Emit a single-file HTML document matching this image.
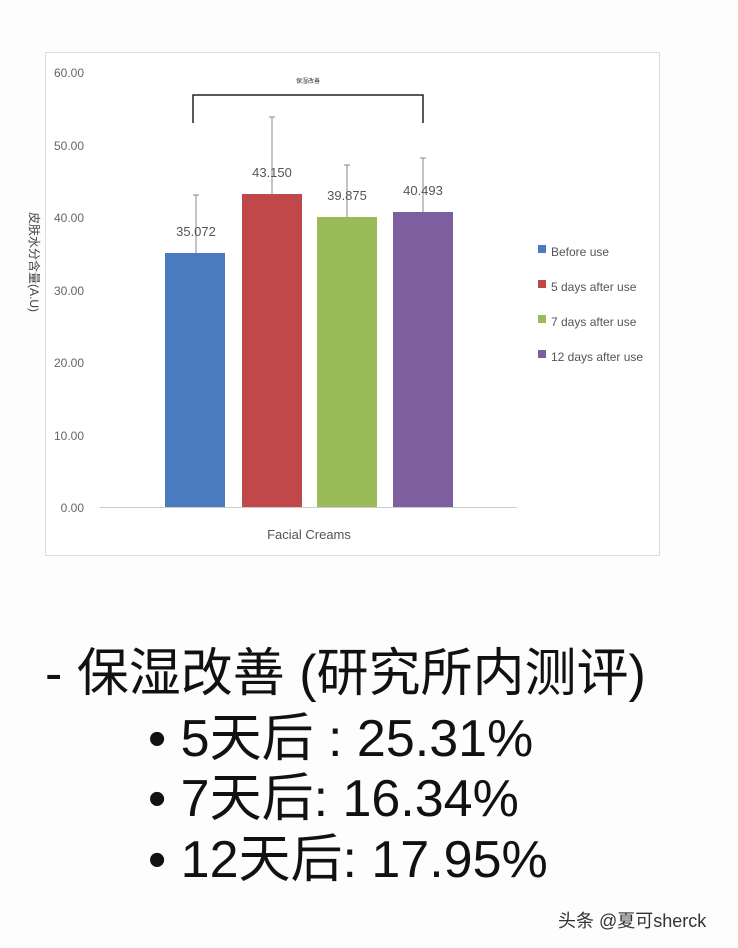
<!DOCTYPE html>
<html><head><meta charset="utf-8"><style>
body{margin:0;width:738px;height:948px;background:#fdfdfd;position:relative;overflow:hidden;font-family:"Liberation Sans","Noto Sans CJK SC",sans-serif}
.t{position:absolute;white-space:nowrap;color:#111;font-size:52px;line-height:1}
</style></head><body>
<svg width="738" height="600" style="position:absolute;left:0;top:0" font-family="Liberation Sans, Noto Sans CJK SC, sans-serif">
<rect x="45.5" y="52.5" width="614" height="503" fill="#fff" stroke="#ddd"/>
<g font-size="12" fill="#666" text-anchor="end">
<text x="84" y="77">60.00</text><text x="84" y="150">50.00</text><text x="84" y="222">40.00</text>
<text x="84" y="295">30.00</text><text x="84" y="367">20.00</text><text x="84" y="440">10.00</text><text x="84" y="512">0.00</text>
</g>
<text transform="translate(30,262) rotate(90)" font-size="12" fill="#444" text-anchor="middle">皮肤水分含量(A.U)</text>
<line x1="100" y1="507.5" x2="517" y2="507.5" stroke="#ccc"/>
<rect x="165" y="253" width="60" height="254" fill="#4a7bbf"/>
<rect x="242" y="194" width="60" height="313" fill="#c0474a"/>
<rect x="317" y="217" width="60" height="290" fill="#9bbb59"/>
<rect x="393" y="212" width="60" height="295" fill="#7d5fa0"/>
<g stroke="#888" stroke-width="1">
<line x1="196" y1="195" x2="196" y2="253"/><line x1="193" y1="195" x2="199" y2="195"/>
<line x1="272" y1="117" x2="272" y2="194"/><line x1="269" y1="117" x2="275" y2="117"/>
<line x1="347" y1="165" x2="347" y2="217"/><line x1="344" y1="165" x2="350" y2="165"/>
<line x1="423" y1="158" x2="423" y2="212"/><line x1="420" y1="158" x2="426" y2="158"/>
</g>
<polyline points="193,123 193,95 423,95 423,123" fill="none" stroke="#222" stroke-width="1.5"/>
<text x="308" y="83" font-size="6" fill="#333" text-anchor="middle">保湿改善</text>
<g font-size="13" fill="#555" text-anchor="middle">
<text x="196" y="236">35.072</text><text x="272" y="177">43.150</text>
<text x="347" y="200">39.875</text><text x="423" y="195">40.493</text>
</g>
<g font-size="12" fill="#555">
<rect x="538" y="245" width="8" height="8" fill="#4a7bbf"/><text x="551" y="256">Before use</text>
<rect x="538" y="280" width="8" height="8" fill="#c0474a"/><text x="551" y="291">5 days after use</text>
<rect x="538" y="315" width="8" height="8" fill="#9bbb59"/><text x="551" y="326">7 days after use</text>
<rect x="538" y="350" width="8" height="8" fill="#7d5fa0"/><text x="551" y="361">12 days after use</text>
</g>
<text x="309" y="539" font-size="13" fill="#555" text-anchor="middle">Facial Creams</text>
</svg>
<div class="t" style="left:45px;top:648px">- 保湿改善 (研究所内测评)</div>
<div class="t" style="left:148px;top:713px">• 5天后 : 25.31%</div>
<div class="t" style="left:148px;top:773px">• 7天后: 16.34%</div>
<div class="t" style="left:148px;top:834px">• 12天后: 17.95%</div>
<div class="t" style="left:558px;top:912px;font-size:18px;color:#333">头条 @夏可sherck</div>
</body></html>
